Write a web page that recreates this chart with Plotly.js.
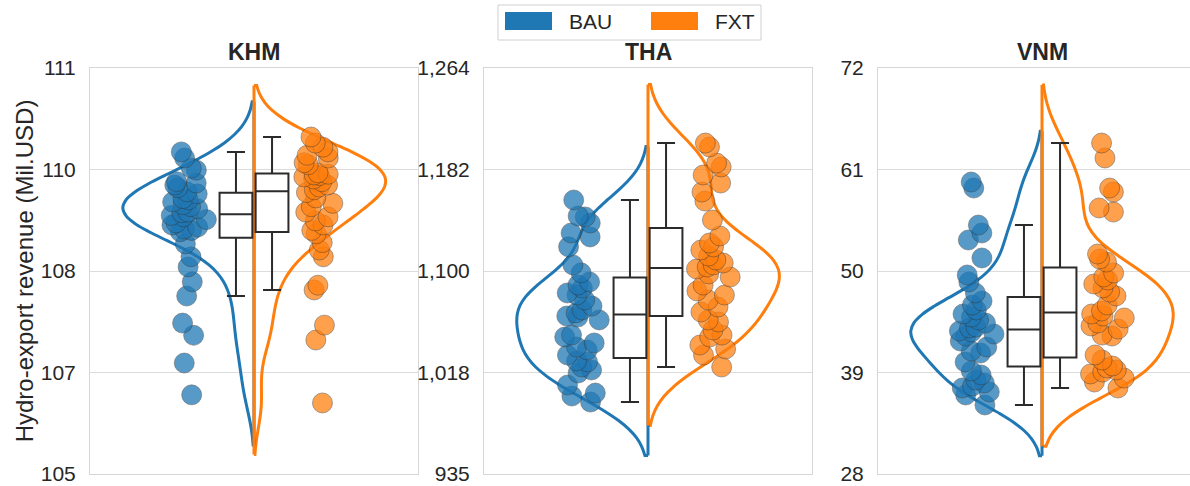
<!DOCTYPE html>
<html>
<head>
<meta charset="utf-8">
<script src="https://cdn.plot.ly/plotly-3.0.1.min.js"></script>
<style>
html,body{margin:0;padding:0;background:#ffffff;}
#chart{width:1190px;height:486px;}
</style>
</head>
<body>
<div id="chart"></div>
<script>
// ---------------- DATA ----------------
const countries = ['KHM', 'THA', 'VNM'];
const scenarios = ['BAU', 'FXT'];

const khmBAU = [109.76,109.67,109.52,109.49,109.32,109.30,109.27,109.23,109.17,109.14,
                109.07,109.05,109.02,108.98,108.95,108.92,108.87,108.86,108.82,108.80,
                108.76,108.71,108.68,108.65,108.62,108.60,108.58,108.40,108.21,108.06,
                107.84,107.63,107.23,107.05,106.64,106.17];
const khmFXT = [109.98,109.89,109.83,109.76,109.71,109.67,109.60,109.57,109.45,109.43,
                109.42,109.41,109.39,109.36,109.32,109.27,109.24,109.20,109.16,109.08,
                109.00,108.95,108.87,108.80,108.74,108.68,108.60,108.55,108.42,108.31,
                108.21,107.79,107.72,107.20,106.98,106.05];

const thaBAU = [1157.0,1144.1,1143.3,1138.4,1130.3,1127.1,1119.1,1104.4,1098.0,
                1090.6,1088.1,1085.6,1081.7,1080.0,1076.0,1071.1,1067.9,1065.5,
                1063.0,1062.2,1059.8,1047.6,1046.0,1041.2,1037.9,1035.5,1031.4,
                1026.6,1025.8,1021.7,1019.3,1016.8,1007.1,1000.6,998.2,993.3];
const thaFXT = [1203.2,1200.0,1187.0,1183.8,1177.3,1170.8,1163.5,1156.2,1140.8,
                1127.9,1122.2,1119.0,1116.5,1111.6,1108.4,1106.0,1104.4,1102.7,
                1101.1,1097.1,1094.6,1088.1,1083.3,1080.0,1076.0,1070.3,1066.3,
                1059.8,1058.2,1051.7,1047.6,1046.0,1039.5,1036.3,1031.4,1021.7];

const vnmBAU = [59.64,58.99,54.98,54.12,53.36,51.41,49.57,48.81,47.62,
                46.75,46.31,45.77,45.34,45.01,44.69,44.36,43.93,43.82,
                43.50,43.39,43.17,42.95,42.41,41.76,41.33,41.11,40.14,
                39.16,38.73,38.19,37.86,37.54,37.32,36.89,36.56,35.48];
const vnmFXT = [63.87,62.25,58.99,58.56,56.83,56.39,51.84,51.30,50.97,
                49.78,49.35,49.02,48.59,48.16,47.72,47.29,46.31,45.66,
                45.34,45.12,44.91,44.36,44.04,43.71,43.06,42.95,40.90,
                40.35,39.70,39.49,39.27,39.05,38.84,38.40,37.97,37.32];

// y-axis ticks (positions and labels as shown)
const khmTickVals = [105, 106.5, 108, 109.5, 111];
const khmTickText = ['105', '107', '108', '110', '111'];
const thaTickVals = [935, 1017.25, 1099.5, 1181.75, 1264];
const thaTickText = ['935', '1,018', '1,100', '1,182', '1,264'];
const vnmTickVals = [28, 39, 50, 61, 72];
const vnmTickText = ['28', '39', '50', '61', '72'];

const yTitle = 'Hydro-export revenue (Mil.USD)';

// ---------------- STYLE ----------------
const W = 1190, H = 486;
const FONT = 'Liberation Sans, Arial, Helvetica, sans-serif';
const TXT = '#262626';
const colors = {BAU: '#1f77b4', FXT: '#ff7f0e'};
const bauSets = [khmBAU, thaBAU, vnmBAU];
const fxtSets = [khmFXT, thaFXT, vnmFXT];
const tickVals = [khmTickVals, thaTickVals, vnmTickVals];
const tickText = [khmTickText, thaTickText, vnmTickText];
const bandwidths = [[0.37, 0.38], [21.7, 23.7], [2.75, 3.15]];

const panelLeft = [90, 484, 878];
const panelW = 328;
const plotTop = 68, plotBottom = 474;

const px = v => v / W;
const py = v => 1 - v / H;

const traces = [];
countries.forEach((c, i) => {
  const xa = i === 0 ? 'x' : 'x' + (i + 1);
  const ya = i === 0 ? 'y' : 'y' + (i + 1);
  const sets = [bauSets[i], fxtSets[i]];
  // half violin outlines
  scenarios.forEach((s, k) => {
    traces.push({
      type: 'violin', x0: 0, y: sets[k], name: s,
      side: k === 0 ? 'negative' : 'positive',
      width: 0.80, bandwidth: bandwidths[i][k], spanmode: 'soft',
      line: {color: colors[s], width: 3},
      fillcolor: 'rgba(0,0,0,0)', points: false,
      box: {visible: false}, meanline: {visible: false},
      xaxis: xa, yaxis: ya, showlegend: false, hoverinfo: 'skip'
    });
  });
  // centre (split) lines of the violins: zero-width violins on the same KDE span
  scenarios.forEach((s, k) => {
    traces.push({
      type: 'violin', x0: 0, y: sets[k], name: s,
      side: 'both', width: 1e-6, bandwidth: bandwidths[i][k], spanmode: 'soft',
      line: {color: colors[s], width: 3},
      fillcolor: 'rgba(0,0,0,0)', points: false,
      box: {visible: false}, meanline: {visible: false},
      xaxis: xa, yaxis: ya, showlegend: false, hoverinfo: 'skip'
    });
  });
  scenarios.forEach((s, k) => {
    const sign = k === 0 ? -1 : 1;
    // box plot (outliers hidden, whiskers at 1.5 IQR)
    traces.push({
      type: 'box', x0: sign * 0.055, width: 0.1, y: sets[k], name: s,
      boxpoints: 'outliers', fillcolor: '#ffffff', whiskerwidth: 0.55,
      line: {color: '#2b2b2b', width: 2},
      marker: {size: 0, opacity: 0, color: 'rgba(0,0,0,0)'},
      xaxis: xa, yaxis: ya, showlegend: false, hoverinfo: 'skip'
    });
    // jittered strip points
    traces.push({
      type: 'box', x0: sign * 0.2, width: 0.13, y: sets[k], name: s,
      boxpoints: 'all', jitter: 1, pointpos: 0,
      fillcolor: 'rgba(0,0,0,0)', line: {color: 'rgba(0,0,0,0)', width: 0},
      marker: {size: 20, color: colors[s], opacity: 0.74,
               line: {color: 'rgba(50,50,50,0.7)', width: 0.8}},
      xaxis: xa, yaxis: ya, showlegend: false, hoverinfo: 'skip'
    });
  });
});

const layout = {
  width: W, height: H,
  margin: {l: 0, r: 0, t: 0, b: 0},
  paper_bgcolor: '#ffffff', plot_bgcolor: '#ffffff',
  font: {family: FONT, color: TXT},
  showlegend: false, hovermode: false,
  boxmode: 'overlay', violinmode: 'overlay',
  annotations: [], shapes: []
};

countries.forEach((c, i) => {
  const sfx = i === 0 ? '' : String(i + 1);
  const left = panelLeft[i];
  const right = Math.min(left + panelW, W);
  const visibleFrac = (right - left) / panelW;
  layout['xaxis' + sfx] = {
    domain: [px(left), px(right)], type: 'linear',
    range: [-0.5, -0.5 + visibleFrac],
    showticklabels: false, ticks: '', showgrid: false, zeroline: false,
    showline: true, mirror: true, linecolor: '#d6d6d6', linewidth: 1,
    anchor: 'y' + sfx, fixedrange: true
  };
  const ya = {
    domain: [py(plotBottom), py(plotTop)],
    range: [tickVals[i][0], tickVals[i][tickVals[i].length - 1]],
    tickmode: 'array', tickvals: tickVals[i], ticktext: tickText[i],
    ticks: '', ticklabelstandoff: 9,
    tickfont: {size: 21, color: TXT, family: FONT},
    showgrid: true, gridcolor: '#dcdcdc', gridwidth: 1, zeroline: false,
    showline: true, mirror: true, linecolor: '#d6d6d6', linewidth: 1,
    anchor: 'x' + sfx, fixedrange: true
  };
  if (i === 0) {
    ya.title = {text: yTitle, font: {size: 24, color: TXT, family: FONT}, standoff: 0};
  }
  layout['yaxis' + sfx] = ya;
  layout.annotations.push({
    text: '<b>' + c + '</b>', xref: 'paper', yref: 'paper',
    x: px(left + panelW / 2), y: py(52), xanchor: 'center', yanchor: 'middle',
    showarrow: false, font: {size: 23, color: TXT, family: FONT}
  });
});

// legend (drawn as a box with patches and labels)
layout.shapes.push({
  type: 'rect', xref: 'paper', yref: 'paper',
  x0: px(498), x1: px(761), y0: py(40), y1: py(5),
  line: {color: '#d0d0d0', width: 1}, fillcolor: '#ffffff', layer: 'above'
});
const legendPatchX = [505, 651];
const legendTextX = [567, 713];
scenarios.forEach((s, k) => {
  layout.shapes.push({
    type: 'rect', xref: 'paper', yref: 'paper',
    x0: px(legendPatchX[k]), x1: px(legendPatchX[k] + 47), y0: py(30), y1: py(12),
    line: {width: 0}, fillcolor: colors[s], layer: 'above'
  });
  layout.annotations.push({
    text: s, xref: 'paper', yref: 'paper',
    x: px(legendTextX[k]), y: py(21.5), xanchor: 'left', yanchor: 'middle',
    showarrow: false, font: {size: 21, color: TXT, family: FONT}
  });
});

Plotly.newPlot('chart', traces, layout, {staticPlot: true, displayModeBar: false});
</script>
</body>
</html>
